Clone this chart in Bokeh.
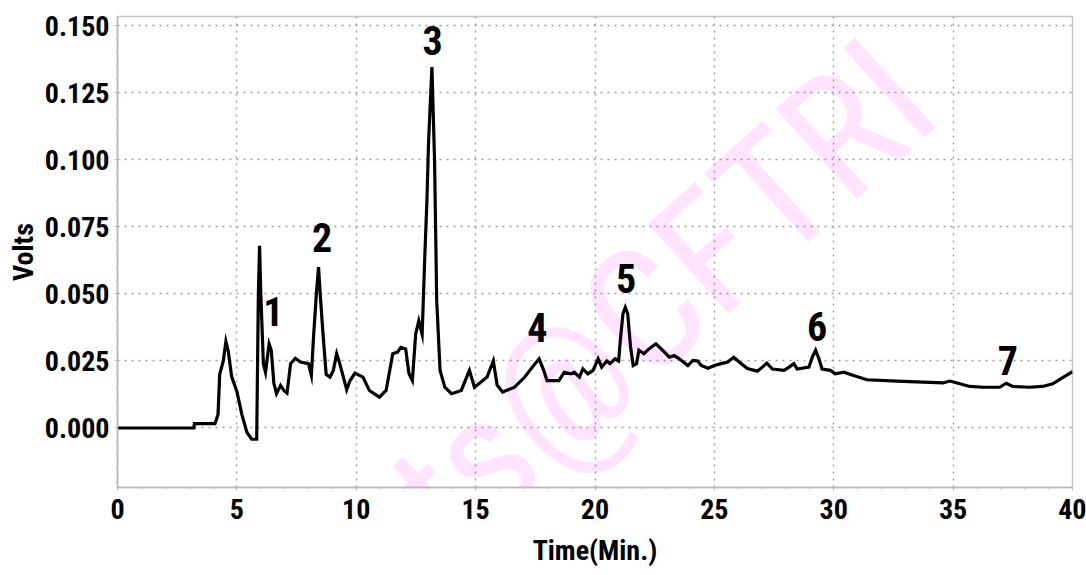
from bokeh.plotting import figure
from bokeh.models import FixedTicker, Label, ColumnDataSource, PrintfTickFormatter
from bokeh.core.properties import value
from bokeh.embed import file_html
from bokeh.resources import INLINE

# Chromatogram trace: retention time (min) and detector signal (V)
time_min = [
    0.00, 3.20, 3.22, 4.08, 4.21, 4.28, 4.43, 4.54, 4.64, 4.78, 5.00, 5.21, 5.42, 5.62, 5.83,
    5.90, 5.95, 6.00, 6.11, 6.20, 6.35, 6.44, 6.55, 6.66, 6.83, 6.97, 7.10, 7.25, 7.45, 7.66,
    8.00, 8.12, 8.21, 8.33, 8.42, 8.49, 8.60, 8.74, 8.90, 9.04, 9.18, 9.29, 9.46, 9.60, 9.74,
    9.95, 10.28, 10.55, 10.97, 11.25, 11.53, 11.73, 11.87, 12.07, 12.21, 12.35, 12.49, 12.62,
    12.76, 12.87, 12.96, 13.03, 13.17, 13.28, 13.37, 13.51, 13.71, 13.99, 14.40, 14.74, 14.95,
    15.20, 15.48, 15.74, 15.90, 16.13, 16.63, 17.06, 17.49, 17.66, 17.85, 17.99, 18.49, 18.71,
    18.99, 19.13, 19.35, 19.49, 19.70, 19.92, 20.13, 20.28, 20.49, 20.63, 20.84, 20.99, 21.06,
    21.17, 21.27, 21.37, 21.49, 21.60, 21.74, 21.84, 22.05, 22.26, 22.55, 22.83, 23.11, 23.32,
    23.53, 23.89, 24.10, 24.30, 24.45, 24.73, 25.00, 25.28, 25.56, 25.81, 26.04, 26.38, 26.80,
    27.01, 27.20, 27.43, 27.92, 28.13, 28.33, 28.47, 28.96, 29.10, 29.24, 29.38, 29.51, 29.86,
    30.07, 30.42, 30.83, 31.39, 32.64, 33.75, 34.58, 34.86, 35.28, 35.70, 36.25, 36.95, 37.22,
    37.50, 38.20, 38.75, 39.17, 39.52, 40.00,
]
volts = [
    0.0000, 0.0000, 0.0016, 0.0016, 0.0050, 0.0200, 0.0250, 0.0323, 0.0286, 0.0192, 0.0136,
    0.0050, -0.0016, -0.0042, -0.0042,
    0.0500, 0.0680, 0.0505, 0.0240, 0.0208, 0.0314, 0.0290, 0.0166, 0.0128, 0.0159, 0.0140,
    0.0130, 0.0240, 0.0260, 0.0246,
    0.0240, 0.0196, 0.0339, 0.0500, 0.0600, 0.0500, 0.0360, 0.0200, 0.0190, 0.0215, 0.0277,
    0.0246, 0.0190, 0.0143, 0.0177,
    0.0205, 0.0190, 0.0140, 0.0115, 0.0140, 0.0277, 0.0283, 0.0301, 0.0295, 0.0202, 0.0177,
    0.0351, 0.0400,
    0.0350, 0.0637, 0.0849, 0.1070, 0.1346, 0.0998, 0.0476, 0.0215, 0.0152, 0.0128, 0.0140,
    0.0215, 0.0152,
    0.0170, 0.0190, 0.0250, 0.0160, 0.0134, 0.0152, 0.0190, 0.0240, 0.0258, 0.0215, 0.0177,
    0.0177, 0.0208,
    0.0202, 0.0208, 0.0190, 0.0221, 0.0202, 0.0215, 0.0258, 0.0227, 0.0250, 0.0240, 0.0258,
    0.0250, 0.0326,
    0.0426, 0.0450, 0.0426, 0.0301, 0.0233, 0.0240, 0.0290, 0.0277, 0.0295, 0.0314, 0.0290,
    0.0264, 0.0270,
    0.0258, 0.0233, 0.0252, 0.0250, 0.0233, 0.0223, 0.0233, 0.0240, 0.0246, 0.0264, 0.0246,
    0.0222, 0.0212,
    0.0227, 0.0242, 0.0220, 0.0215, 0.0227, 0.0240, 0.0220, 0.0227, 0.0264, 0.0290, 0.0258,
    0.0220, 0.0215,
    0.0202, 0.0208, 0.0196, 0.0180, 0.0175, 0.0171, 0.0168, 0.0175, 0.0165, 0.0155, 0.0152,
    0.0152, 0.0167,
    0.0155, 0.0152, 0.0155, 0.0165, 0.0184, 0.0210,
]

# Peak numbers and where they are written
peak_labels = ["1", "2", "3", "4", "5", "6", "7"]
label_time = [6.53, 8.57, 13.20, 17.59, 21.30, 29.30, 37.29]
label_volts = [0.0435, 0.0709, 0.1446, 0.0373, 0.0557, 0.0380, 0.0252]

# Axis ticks
x_ticks = [0, 5, 10, 15, 20, 25, 30, 35, 40]
y_ticks = [0.000, 0.025, 0.050, 0.075, 0.100, 0.125, 0.150]

COND = "'Roboto Condensed', 'DejaVu Sans Condensed', 'Liberation Sans Narrow', sans-serif"

p = figure(
    width=1086, height=575,
    output_backend="svg", toolbar_location=None,
    x_range=(0, 40), y_range=(-0.0222, 0.1535),
    min_border_left=117, min_border_right=14, min_border_top=16, min_border_bottom=88,
    background_fill_color="white", border_fill_color="white",
)
p.outline_line_color = "#c4c4c4"
p.outline_line_width = 1.5

# Faint diagonal watermark
p.add_layout(Label(
    x=33.06, y=0.1315, text="reprints@CFTRI", angle=42, angle_units="deg",
    text_align="right", text_baseline="alphabetic",
    text_font="Roboto Condensed", text_font_size="170px",
    text_color="#ff00ff", text_alpha=0.11, level="underlay",
))

x_minor = [i for i in range(0, 41) if i % 5]
y_minor = [round(k * 0.005, 3) for k in range(-4, 31) if k % 5]
p.xaxis.ticker = FixedTicker(ticks=x_ticks, minor_ticks=x_minor)
p.yaxis.ticker = FixedTicker(ticks=y_ticks, minor_ticks=y_minor)
p.yaxis.formatter = PrintfTickFormatter(format="%.3f")

for ax in (p.xaxis, p.yaxis):
    ax.axis_line_color = "#b8b8b8"
    ax.axis_line_width = 1.5
    ax.major_tick_line_color = "#b8b8b8"
    ax.major_tick_in = 0
    ax.major_tick_out = 3
    ax.minor_tick_line_color = "#c8c8c8"
    ax.minor_tick_in = 0
    ax.minor_tick_out = 2
    ax.major_label_text_font = COND
    ax.major_label_text_font_size = "28px"
    ax.major_label_text_font_style = "bold"
    ax.major_label_text_color = "black"
    ax.axis_label_text_font = COND
    ax.axis_label_text_font_size = "28px"
    ax.axis_label_text_font_style = "bold"
    ax.axis_label_text_color = "black"

p.xaxis.axis_label = "Time(Min.)"
p.yaxis.axis_label = "Volts"
p.xaxis.major_label_standoff = 8
p.yaxis.major_label_standoff = 5
p.xaxis.axis_label_standoff = 12
p.yaxis.axis_label_standoff = 2

for g in (p.xgrid, p.ygrid):
    g.grid_line_color = "#9c9c9c"
    g.grid_line_dash = "2 5"
    g.grid_line_width = 1.4

src = ColumnDataSource(data=dict(t=time_min, v=volts))
p.line("t", "v", source=src, line_color="black", line_width=3.2, line_join="miter")

lab = ColumnDataSource(data=dict(t=label_time, v=label_volts, s=peak_labels))
p.text("t", "v", text="s", source=lab,
       text_font=value(COND), text_font_size="40px", text_font_style="bold",
       text_color="black", text_align="center", text_baseline="middle")

open("out.html", "w").write(file_html(p, INLINE))
